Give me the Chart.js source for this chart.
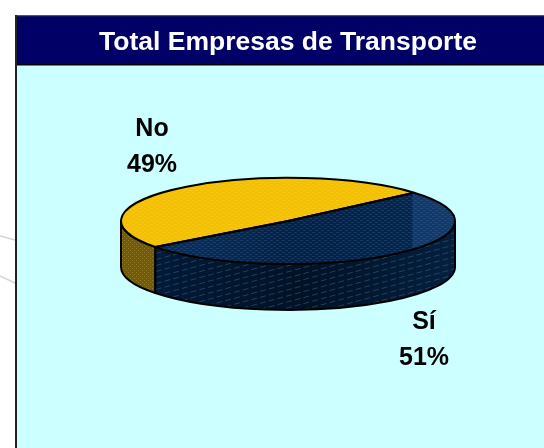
<!DOCTYPE html>
<html>
<head>
<meta charset="utf-8">
<style>html,body{margin:0;padding:0;background:#fff}canvas{display:block}</style>
<script src="https://cdn.jsdelivr.net/npm/chart.js@4"></script>
</head>
<body>
<canvas id="c" width="544" height="448"></canvas>
<script>
const categories = ['Sí', 'No'];
const shares = [51, 49];
const chartTitle = 'Total Empresas de Transporte';
const topColors = ['#0a2e5a', '#f4c000'];
const FONT = '"Liberation Sans", Arial, sans-serif';
const SQUASH = 43 / 167, DEPTH = 46;
const labelOffsets = [[136, 119], [-136, -74]];

function tile(color, w, h, draw) {
  const t = document.createElement('canvas');
  t.width = w; t.height = h;
  const g = t.getContext('2d');
  g.fillStyle = color;
  draw(g);
  return t;
}
const dashes = (g) => { g.fillRect(0, 0, 3, 1); g.fillRect(3, 2, 3, 1); };

function arcPath(ctx, a, from, to) {
  ctx.ellipse(a.x, a.y, a.outerRadius, a.outerRadius * SQUASH, 0, from, to);
}
function wall(ctx, a, from, to, fill) {
  ctx.save();
  ctx.beginPath();
  arcPath(ctx, a, from, to);
  ctx.lineTo(a.x + Math.cos(to) * a.outerRadius, a.y + Math.sin(to) * a.outerRadius * SQUASH + DEPTH);
  ctx.ellipse(a.x, a.y + DEPTH, a.outerRadius, a.outerRadius * SQUASH, 0, to, from, true);
  ctx.closePath();
  ctx.fillStyle = fill;
  ctx.fill();
  return () => {
    ctx.restore();
    ctx.lineWidth = 2; ctx.lineJoin = 'round'; ctx.strokeStyle = '#000';
    ctx.beginPath();
    arcPath(ctx, a, from, to);
    ctx.lineTo(a.x + Math.cos(to) * a.outerRadius, a.y + Math.sin(to) * a.outerRadius * SQUASH + DEPTH);
    ctx.ellipse(a.x, a.y + DEPTH, a.outerRadius, a.outerRadius * SQUASH, 0, to, from, true);
    ctx.closePath();
    ctx.stroke();
  };
}

const look = {
  id: 'look',
  beforeDraw(chart) {
    const { ctx, width, height } = chart;
    ctx.save();
    ctx.fillStyle = '#fff'; ctx.fillRect(0, 0, width, height);
    ctx.strokeStyle = '#cfd8d4'; ctx.lineWidth = 1.5;
    ctx.beginPath(); ctx.moveTo(0, 236); ctx.lineTo(15, 240); ctx.moveTo(0, 276); ctx.lineTo(15, 283); ctx.stroke();
    ctx.fillStyle = '#ccffff'; ctx.fillRect(16, 16, width - 16, height - 16);
    ctx.fillStyle = '#000066'; ctx.fillRect(16, 16, width - 16, 48);
    ctx.fillStyle = '#000'; ctx.fillRect(16, 64, width - 16, 1.5);
    ctx.fillStyle = '#555'; ctx.fillRect(15, 15, width - 15, 1.2);
    ctx.fillStyle = '#222'; ctx.fillRect(15, 15, 2, height - 15);
    ctx.restore();
  },
  beforeDatasetDraw(chart) {
    const { ctx } = chart;
    const [si, no] = chart.getDatasetMeta(0).data;
    const sp = si.getProps(['x', 'y', 'outerRadius', 'startAngle', 'endAngle'], true);
    const np = no.getProps(['x', 'y', 'outerRadius', 'startAngle', 'endAngle'], true);
    const boundary = sp.endAngle;

    // yellow side
    const yStroke = wall(ctx, np, boundary, Math.PI, '#6e5a14');
    ctx.clip();
    ctx.fillStyle = ctx.createPattern(tile('rgba(170,145,40,0.6)', 4, 4, g => { g.fillRect(0, 0, 1, 1); g.fillRect(2, 2, 1, 1); }), 'repeat');
    ctx.fillRect(np.x - np.outerRadius - 2, np.y - 10, 60, 120);
    yStroke();

    // blue side
    const grad = ctx.createLinearGradient(sp.x - sp.outerRadius, 0, sp.x + sp.outerRadius, 0);
    grad.addColorStop(0, '#021c3c');
    grad.addColorStop(0.55, '#011226');
    grad.addColorStop(1, '#03203f');
    const bStroke = wall(ctx, sp, 0, boundary, grad);
    ctx.clip();
    ctx.strokeStyle = 'rgba(70,105,140,0.5)';
    ctx.lineWidth = 1;
    ctx.setLineDash([6, 3]);
    for (let k = -60; k < 220; k += 6) {
      ctx.beginPath();
      const x0 = sp.x - sp.outerRadius, x1 = sp.x + sp.outerRadius;
      ctx.moveTo(x0, sp.y + k);
      ctx.lineTo(x1, sp.y + k - (x1 - x0) * 0.27);
      ctx.stroke();
    }
    ctx.setLineDash([]);
    bStroke();

    ctx.save();
    ctx.translate(0, sp.y);
    ctx.scale(1, SQUASH);
    ctx.translate(0, -sp.y);
  },
  afterDatasetDraw(chart) {
    const { ctx } = chart;
    ctx.restore();
    const arcs = chart.getDatasetMeta(0).data;
    arcs.forEach((el, i) => {
      const a = el.getProps(['x', 'y', 'outerRadius', 'startAngle', 'endAngle'], true);
      const sector = () => {
        ctx.beginPath();
        ctx.moveTo(a.x, a.y);
        arcPath(ctx, a, a.startAngle, a.endAngle);
        ctx.closePath();
      };
      ctx.save();
      sector();
      ctx.clip();
      if (i === 0) {
        const g = ctx.createLinearGradient(a.x - a.outerRadius, 0, a.x + a.outerRadius, 0);
        g.addColorStop(0, 'rgba(8,40,80,0)');
        g.addColorStop(0.5, 'rgba(0,20,45,0.5)');
        g.addColorStop(0.87, 'rgba(0,25,55,0.45)');
        g.addColorStop(0.875, 'rgba(30,75,125,0.4)');
        g.addColorStop(1, 'rgba(30,75,125,0.4)');
        ctx.fillStyle = g;
        ctx.fill();
        ctx.fillStyle = ctx.createPattern(tile('rgba(70,115,165,0.28)', 6, 4, dashes), 'repeat');
      } else {
        ctx.fillStyle = ctx.createPattern(tile('rgba(250,215,60,0.35)', 6, 4, dashes), 'repeat');
      }
      ctx.fillRect(a.x - a.outerRadius - 2, a.y - a.outerRadius, a.outerRadius * 2 + 4, a.outerRadius * 2);
      ctx.restore();
    });
    arcs.forEach((el) => {
      const a = el.getProps(['x', 'y', 'outerRadius', 'startAngle', 'endAngle'], true);
      ctx.save();
      ctx.strokeStyle = '#000'; ctx.lineWidth = 2; ctx.lineJoin = 'round';
      ctx.beginPath();
      ctx.moveTo(a.x, a.y);
      arcPath(ctx, a, a.startAngle, a.endAngle);
      ctx.closePath();
      ctx.stroke();
      ctx.restore();
    });
    // labels
    ctx.save();
    ctx.fillStyle = '#000';
    ctx.font = 'bold 25px ' + FONT;
    ctx.textAlign = 'center';
    ctx.textBaseline = 'middle';
    arcs.forEach((el, i) => {
      const a = el.getProps(['x', 'y'], true);
      const x = a.x + labelOffsets[i][0], y = a.y + labelOffsets[i][1];
      ctx.fillText(categories[i], x, y - 18);
      ctx.fillText(shares[i] + '%', x, y + 18);
    });
    ctx.restore();
  }
};

new Chart(document.getElementById('c'), {
  type: 'pie',
  data: {
    labels: categories,
    datasets: [{ data: shares, backgroundColor: topColors, borderWidth: 0, clip: false }]
  },
  options: {
    responsive: false,
    animation: false,
    rotation: 49,
    radius: 167,
    layout: { padding: { left: 32, top: 16, bottom: 71 } },
    plugins: {
      legend: { display: false },
      tooltip: { enabled: false },
      title: {
        display: true,
        text: chartTitle,
        color: '#fff',
        font: { family: FONT, size: 26.5, weight: 'bold' },
        padding: { top: 11, bottom: 6 }
      }
    }
  },
  plugins: [look]
});
</script>
</body>
</html>
